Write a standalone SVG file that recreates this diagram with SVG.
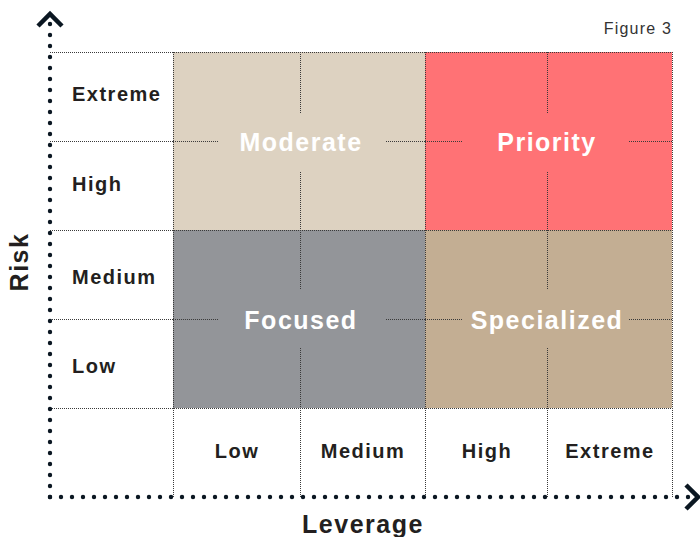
<svg xmlns="http://www.w3.org/2000/svg" width="700" height="537" viewBox="0 0 700 537">
<style>
.grid{fill:none;stroke:#3a3a3a;stroke-width:1;stroke-dasharray:1 1}
.axis{fill:none;stroke:#0b1722;stroke-width:4.4;stroke-linecap:round;stroke-dasharray:0 11}
.chev{fill:none;stroke:#0b1722;stroke-width:4.5;stroke-linecap:butt;stroke-linejoin:miter}
.lbl{font-family:"Liberation Sans",Arial,sans-serif;font-weight:bold;font-size:20px;letter-spacing:1.5px;fill:#231f20}
.q{font-family:"Liberation Sans",Arial,sans-serif;font-weight:bold;font-size:25px;letter-spacing:1.5px;fill:#ffffff;text-anchor:middle}
.ax{font-family:"Liberation Sans",Arial,sans-serif;font-weight:bold;font-size:25px;letter-spacing:1.5px;fill:#231f20;text-anchor:middle}
.mid{text-anchor:middle}
</style>
<rect width="700" height="537" fill="#ffffff"/>
<g id="moderate">
<rect x="173" y="52" width="252" height="178" fill="#ddd2c1"/>
<path class="grid" d="M300.5 52V113M300.5 172V230M173 141.5H219M386 141.5H425"/>
<text class="q" x="301" y="151">Moderate</text>
</g>
<g id="priority">
<rect x="425" y="52" width="247" height="178" fill="#ff7275"/>
<path class="grid" d="M547.5 52V113M547.5 172V230M425 141.5H463M629 141.5H672"/>
<text class="q" x="547" y="151">Priority</text>
</g>
<g id="focused">
<rect x="173" y="230" width="252" height="178" fill="#939599"/>
<path class="grid" d="M300.5 230V289M300.5 348V408M173 319.5H219M386 319.5H425"/>
<text class="q" x="301" y="329">Focused</text>
</g>
<g id="specialized">
<rect x="425" y="230" width="247" height="178" fill="#c3ae93"/>
<path class="grid" d="M547.5 230V289M547.5 348V408M425 319.5H463M629 319.5H672"/>
<text class="q" x="547" y="329">Specialized</text>
</g>
<g id="grid">
<path class="grid" d="M50 52.5H672M50 141.5H173M50 230.5H672M50 319.5H173M50 408.5H672M173.5 52V497M425.5 52V497M672.5 52V497M300.5 408V497M547.5 408V497"/>
</g>
<g id="risk-labels">
<text class="lbl" x="72" y="101">Extreme</text>
<text class="lbl" x="72" y="191">High</text>
<text class="lbl" x="72" y="284">Medium</text>
<text class="lbl" x="72" y="373">Low</text>
</g>
<g id="leverage-labels">
<text class="lbl mid" x="237" y="458">Low</text>
<text class="lbl mid" x="363" y="458">Medium</text>
<text class="lbl mid" x="487" y="458">High</text>
<text class="lbl mid" x="610" y="458">Extreme</text>
</g>
<g id="connectors">
<path class="axis" d="M50 497V23"/>
<path class="axis" d="M50 497H690"/>
<path class="chev" d="M38 26L50 14L62 26"/>
<path class="chev" d="M686 485L698 497L686 509"/>
</g>
<text class="ax" transform="translate(28 262) rotate(-90)">Risk</text>
<text class="ax" x="363" y="533">Leverage</text>
<text x="672" y="34" text-anchor="end" font-family="Liberation Sans, Arial, sans-serif" font-size="16" letter-spacing="1.2" fill="#333333">Figure 3</text>
</svg>
